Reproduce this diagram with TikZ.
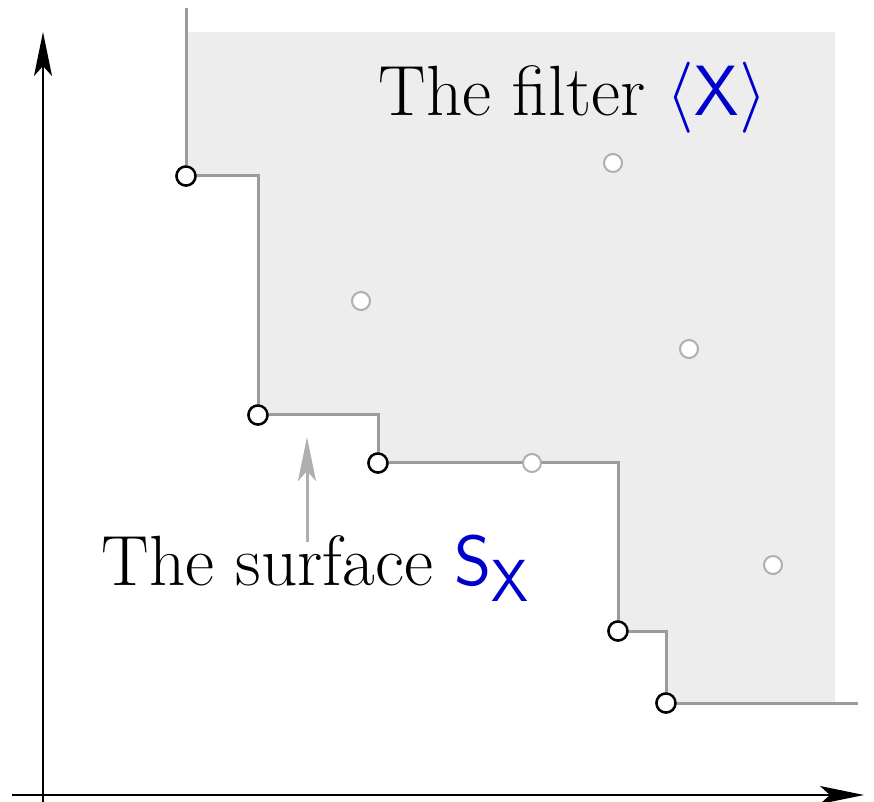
\documentclass[tikz,border=0pt]{standalone}
\usepackage{amssymb,amsmath}
\usepackage{xcolor}
\usepackage{tikz}
\usetikzlibrary{arrows.meta, positioning, calc}
\definecolor{filtergray}{RGB}{237, 237, 237}
\definecolor{stairgray}{RGB}{155, 155, 155}
\definecolor{pointgray}{RGB}{175, 175, 175}
\definecolor{labelblue}{RGB}{0, 0, 205}

\begin{document}
\begin{tikzpicture}[
        x=0.5pt, y=-0.5pt,
        % --- TikZ Styles ---
        axis/.style={line width=1pt, -{Stealth[length=22pt, width=9pt, inset=5pt]}},
        stair/.style={line width=1.5pt, stairgray},
        pointer/.style={line width=1.5pt, pointgray, -{Stealth[length=22pt, width=9pt, inset=5pt]}},
        minpt/.style={circle, draw=black, line width=1.2pt, fill=white, minimum size=9.5pt, inner sep=0pt},
        innerpt/.style={circle, draw=pointgray, line width=1pt, fill=white, minimum size=9pt, inner sep=0pt},
        caption/.style={font=\fontsize{24.88}{30}\selectfont, scale=1.43, transform shape, inner sep=0pt}
    ]
    \useasboundingbox (0,0) rectangle (874,802);

    % --- 1. MINIMAL POINTS ---
    \node[minpt] (p1) at (186,176) {};
    \node[minpt] (p2) at (258,415) {};
    \node[minpt] (p3) at (378,463) {};
    \node[minpt] (p4) at (618,631) {};
    \node[minpt] (p5) at (666,703) {};

    % --- 2. FILTER REGION ---
    \fill[filtergray] (186,32) -- (835,32) -- (835,703) -- (p5.center) |- (p4.center)
        |- (p3.center) |- (p2.center) |- (p1.center) -- cycle;

    % --- 3. AXES ---
    \coordinate (origin) at (43,795);
    \draw[axis] (origin |- 0,802) -- (43,32);
    \draw[axis] (12,795) -- (864,795);

    % --- 4. SURFACE ---
    \coordinate (stairtop) at (186,8);
    \coordinate (stairend) at (858,703);
    \draw[stair] (stairtop) -- (p1.center) -| (p2.center) -| (p3.center)
        -| (p4.center) -| (p5.center) -- (stairend);

    % redraw the points over the surface
    \foreach \p in {p1,p2,p3,p4,p5}
        \node[minpt] at (\p) {};

    % --- 5. POINTS OF THE FILTER ---
    \node[innerpt] (q1) at (613,163) {};
    \node[innerpt] (q2) at (361,301) {};
    \node[innerpt] (q3) at (689,349) {};
    \node[innerpt] (q4) at (532,463) {};
    \node[innerpt] (q5) at (773,565) {};

    % --- 6. LABELS ---
    \node[caption, anchor=base west] (filter) at (378,116)
        {The filter {\color{labelblue}$\langle\mathsf{X}\rangle$}};
    \node[caption, anchor=base west] (surface) at (101,585)
        {The surface {\color{labelblue}$\mathsf{S}_{\mathsf{X}}$}};

    \coordinate (aim) at (307,437);
    \draw[pointer] (surface.north -| aim) ++(0,8) -- (aim);

\end{tikzpicture}
\end{document}
